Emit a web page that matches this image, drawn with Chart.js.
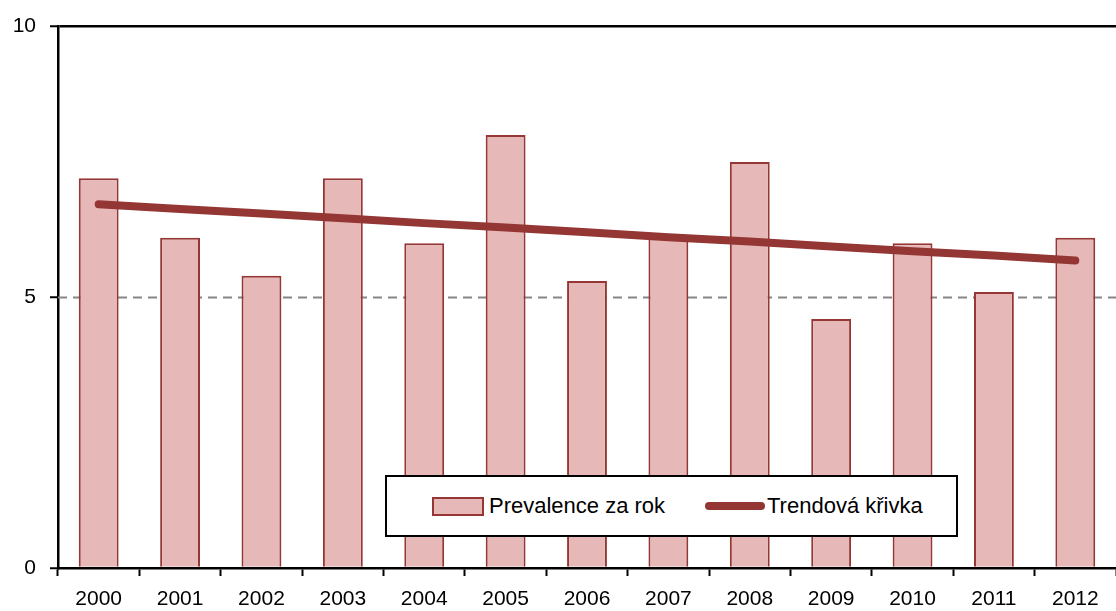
<!DOCTYPE html>
<html>
<head>
<meta charset="utf-8">
<script src="https://cdn.jsdelivr.net/npm/chart.js@4"></script>
<style>
  html, body { margin: 0; padding: 0; background: #fff; }
  #wrap { position: relative; width: 1116px; height: 611px; }
  #legend {
    position: absolute; left: 385px; top: 475px; width: 569px; height: 58px;
    border: 2px solid #000; background: #fff; box-sizing: content-box;
    font-family: "Liberation Sans", Arial, sans-serif; font-size: 22px; color: #000;
  }
  #legend .item { position: absolute; top: 0; height: 58px; display: flex; align-items: center; }
  #legend .box { width: 48px; height: 15px; background: #E6B9B8; border: 2px solid #953735; margin-right: 5px; }
  #legend .line { width: 60px; height: 8px; border-radius: 4px; background: #943634; margin-right: 2px; }
</style>
</head>
<body>
<div id="wrap">
  <canvas id="BarChart-prev" width="1116" height="611"></canvas>
  <div id="legend">
    <div class="item" style="left:45px"><span class="box"></span>Prevalence za rok</div>
    <div class="item" style="left:318px"><span class="line"></span>Trendová křivka</div>
  </div>
</div>
<script>
const years = ['2000','2001','2002','2003','2004','2005','2006','2007','2008','2009','2010','2011','2012']
const prevalence = [7.2, 6.1, 5.4, 7.2, 6.0, 8.0, 5.3, 6.1, 7.5, 4.6, 6.0, 5.1, 6.1]
const trend = [6.72, 6.63, 6.55, 6.46, 6.37, 6.29, 6.20, 6.11, 6.03, 5.94, 5.85, 5.77, 5.68]
const yTicks = [0, 5, 10]
const tickFont = { family: 'Liberation Sans', size: 21 }

// dashed reference line at 5, behind the bars
const midLine = {
  id: 'midLine',
  beforeDatasetsDraw(chart) {
    const {ctx, chartArea, scales} = chart
    const y = Math.round(scales.y.getPixelForValue(5)) + 0.5
    ctx.save()
    ctx.strokeStyle = '#868686'
    ctx.lineWidth = 2
    ctx.setLineDash([9, 6])
    ctx.beginPath()
    ctx.moveTo(chartArea.left, y)
    ctx.lineTo(chartArea.right, y)
    ctx.stroke()
    ctx.restore()
  }
}

const ctl = document.getElementById('BarChart-prev')
new Chart(ctl, {
  type: 'bar',
  data: {
    labels: years,
    datasets: [
      {
        type: 'line',
        label: 'Trendová křivka',
        data: trend,
        borderColor: '#943634',
        borderWidth: 8,
        borderCapStyle: 'round',
        pointRadius: 0,
        fill: false,
        order: 0
      },
      {
        label: 'Prevalence za rok',
        data: prevalence,
        backgroundColor: '#E6B9B8',
        borderColor: '#953735',
        borderWidth: 2,
        barPercentage: 0.49,
        categoryPercentage: 1,
        order: 1
      }
    ]
  },
  options: {
    responsive: false,
    animation: false,
    layout: { padding: { top: 25, right: 0, left: 0, bottom: 0 } },
    plugins: { legend: { display: false }, tooltip: { enabled: false } },
    scales: {
      x: {
        offset: true,
        grid: { offset: true, drawOnChartArea: false, tickLength: 8, tickWidth: 2, tickColor: '#000' },
        border: { color: '#000', width: 2.5 },
        ticks: { color: '#000', padding: 11, font: tickFont },
        afterFit(scale) { scale.height = 43 }
      },
      y: {
        min: 0, max: 10,
        afterBuildTicks(scale) { scale.ticks = yTicks.map(v => ({value: v})) },
        grid: {
          color: c => c.tick && c.tick.value === 10 ? '#000' : 'rgba(0,0,0,0)',
          lineWidth: 2.5,
          tickLength: 8, tickWidth: 2, tickColor: '#000'
        },
        border: { color: '#000', width: 2.5 },
        ticks: { color: '#000', padding: 14, font: tickFont },
        afterFit(scale) { scale.width = 58 }
      }
    }
  },
  plugins: [midLine]
})
</script>
</body>
</html>
